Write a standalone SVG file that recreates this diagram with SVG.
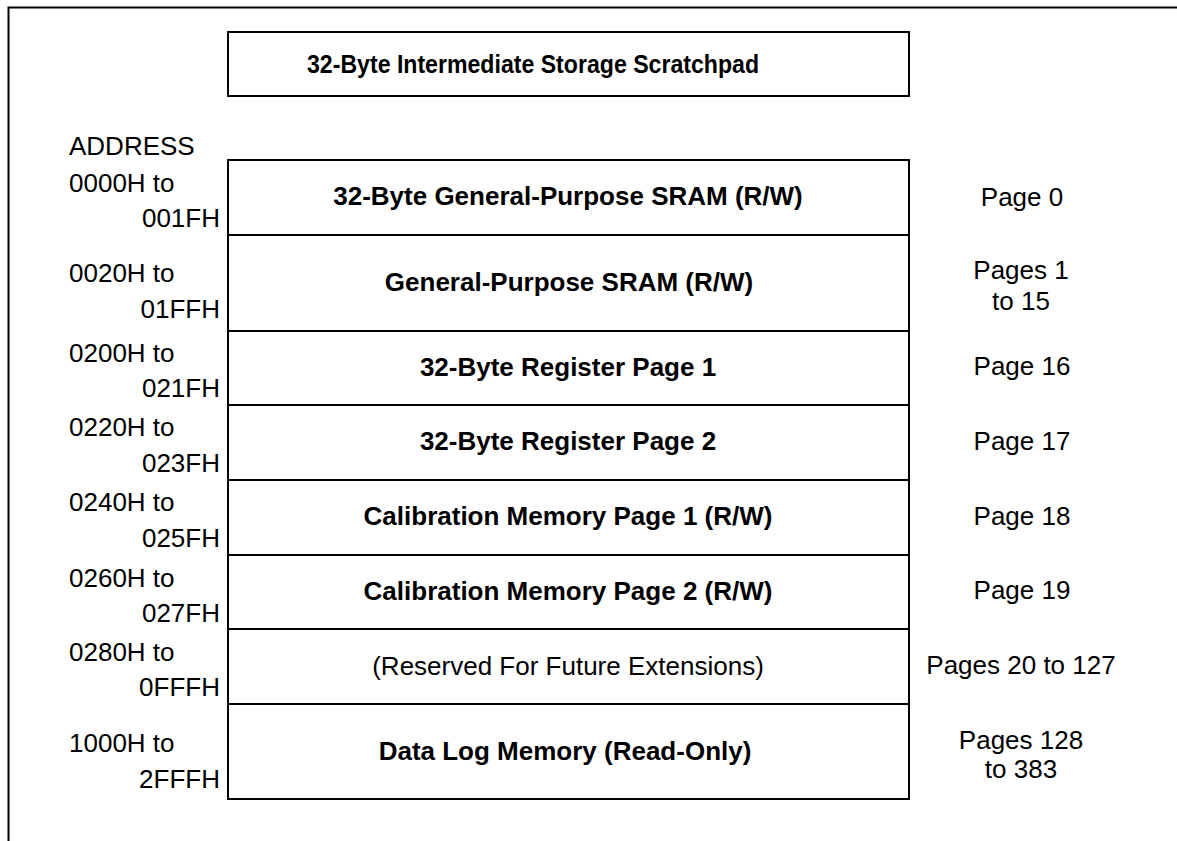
<svg xmlns="http://www.w3.org/2000/svg" width="1177" height="841" viewBox="0 0 1177 841">
<style>
.frame{fill:none;stroke:#000;stroke-width:2}
.box{fill:#fff;stroke:#000;stroke-width:2}
.sep{stroke:#000;stroke-width:2}
text{font-family:"Liberation Sans",Arial,sans-serif;font-size:26px;fill:#000}
.b{font-weight:bold;text-anchor:middle}
.a{text-anchor:start}
.e{text-anchor:end}
.p{text-anchor:middle}
</style>
<rect width="1177" height="841" fill="#fff"/>
<path class="frame" d="M8.5 841 V7.5 H1177"/>
<g id="scratchpad">
<rect class="box" x="228" y="32" width="681" height="64"/>
<text x="307" y="73" font-weight="bold" textLength="452" lengthAdjust="spacingAndGlyphs">32-Byte Intermediate Storage Scratchpad</text>
</g>
<text class="a" x="69" y="155">ADDRESS</text>
<g id="memory-map">
<rect class="box" x="228" y="160" width="681" height="639"/>
<g id="separators">
<line class="sep" x1="228" y1="235" x2="909" y2="235"/>
<line class="sep" x1="228" y1="331" x2="909" y2="331"/>
<line class="sep" x1="228" y1="405" x2="909" y2="405"/>
<line class="sep" x1="228" y1="480" x2="909" y2="480"/>
<line class="sep" x1="228" y1="555" x2="909" y2="555"/>
<line class="sep" x1="228" y1="629" x2="909" y2="629"/>
<line class="sep" x1="228" y1="704" x2="909" y2="704"/>
</g>
</g>
<g id="row0">
<text class="a" x="69" y="192">0000H to</text>
<text class="e" x="220" y="227">001FH</text>
<text class="b" x="568" y="205">32-Byte General-Purpose SRAM (R/W)</text>
<text class="p" x="1022" y="206">Page 0</text>
</g>
<g id="row1">
<text class="a" x="69" y="282">0020H to</text>
<text class="e" x="220" y="318">01FFH</text>
<text class="b" x="569" y="291">General-Purpose SRAM (R/W)</text>
<text class="p" x="1021" y="279">Pages 1</text>
<text class="p" x="1021" y="310">to 15</text>
</g>
<g id="row2">
<text class="a" x="69" y="362">0200H to</text>
<text class="e" x="220" y="397">021FH</text>
<text class="b" x="568" y="376">32-Byte Register Page 1</text>
<text class="p" x="1022" y="375">Page 16</text>
</g>
<g id="row3">
<text class="a" x="69" y="436">0220H to</text>
<text class="e" x="220" y="472">023FH</text>
<text class="b" x="568" y="450">32-Byte Register Page 2</text>
<text class="p" x="1022" y="450">Page 17</text>
</g>
<g id="row4">
<text class="a" x="69" y="511">0240H to</text>
<text class="e" x="220" y="547">025FH</text>
<text class="b" x="568" y="525">Calibration Memory Page 1 (R/W)</text>
<text class="p" x="1022" y="525">Page 18</text>
</g>
<g id="row5">
<text class="a" x="69" y="587">0260H to</text>
<text class="e" x="220" y="622">027FH</text>
<text class="b" x="568" y="600">Calibration Memory Page 2 (R/W)</text>
<text class="p" x="1022" y="599">Page 19</text>
</g>
<g id="row6">
<text class="a" x="69" y="661">0280H to</text>
<text class="e" x="220" y="696">0FFFH</text>
<text class="p" x="568" y="675">(Reserved For Future Extensions)</text>
<text class="p" x="1021" y="674">Pages 20 to 127</text>
</g>
<g id="row7">
<text class="a" x="69" y="752">1000H to</text>
<text class="e" x="220" y="788">2FFFH</text>
<text class="b" x="565" y="760">Data Log Memory (Read-Only)</text>
<text class="p" x="1021" y="749">Pages 128</text>
<text class="p" x="1021" y="778">to 383</text>
</g>
</svg>
